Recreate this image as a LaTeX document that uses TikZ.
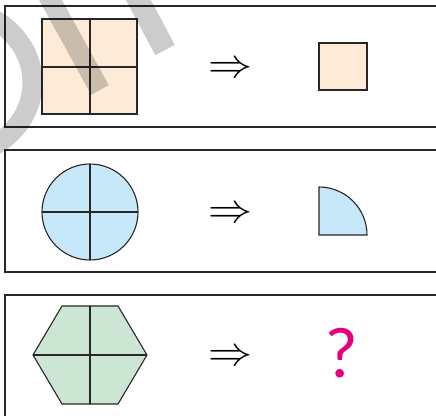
\documentclass[tikz,border=0pt]{standalone}
\usepackage{fontspec}
\usepackage{graphicx}
\newfontfamily\qfont{Lato}
\usetikzlibrary{positioning}

\definecolor{peachFill}{RGB}{253,235,215}
\definecolor{skyFill}{RGB}{199,232,248}
\definecolor{mintFill}{RGB}{204,230,211}
\definecolor{quesPink}{RGB}{230,0,126}
\definecolor{edgeGray}{RGB}{40,38,38}

\begin{document}
\begin{tikzpicture}[
                x=1pt, y=1pt,
                % Box Styles
                panelBox/.style = {draw=edgeGray, line width=1.2pt},
                shapeLine/.style = {draw=edgeGray, line width=1.1pt},
                % Arrow Style
                impliesNode/.style = {inner sep=0pt},
                quesNode/.style = {inner sep=0pt, text=quesPink, font=\qfont\fontsize{68}{68}\selectfont},
                % Watermark Style
                markBand/.style = {draw=black, opacity=0.2}
            ]
                \clip (0,0) rectangle (436,415);

                % ==========================================
                % PANELS
                % ==========================================
                \draw[panelBox] (5,288) rectangle (445,409);
                \draw[panelBox] (5,143) rectangle (445,265);
                \draw[panelBox] (5,-10) rectangle (445,120);

                % ==========================================
                % ROW 1: SQUARE
                % ==========================================
                \filldraw[shapeLine, fill=peachFill] (42,301) rectangle (137,396);
                \draw[shapeLine] (90,301) -- (90,396) (42,348) -- (137,348);
                \node[impliesNode] (imp1) at (230,345) {\scalebox{4.4}[4.1]{$\Rightarrow$}};
                \filldraw[shapeLine, fill=peachFill] (319,325) rectangle (367,372);

                % ==========================================
                % ROW 2: CIRCLE
                % ==========================================
                \coordinate (cir) at (90,203);
                \filldraw[shapeLine, fill=skyFill] (cir) circle[radius=48pt];
                \draw[shapeLine] ([yshift=48pt]cir) -- ([yshift=-48pt]cir)
                    ([xshift=-48pt]cir) -- ([xshift=48pt]cir);
                \node[impliesNode] (imp2) at (230,200) {\scalebox{4.4}[4.1]{$\Rightarrow$}};
                \coordinate (qc) at (319,180);
                \filldraw[shapeLine, fill=skyFill] (qc) -- ([yshift=48pt]qc)
                    arc[start angle=90, end angle=0, radius=48pt] -- cycle;

                % ==========================================
                % ROW 3: HEXAGON
                % ==========================================
                \filldraw[shapeLine, fill=mintFill] (33,60) -- (62,109) -- (118,109)
                    -- (147,60) -- (118,11) -- (62,11) -- cycle;
                \draw[shapeLine] (90,109) -- (90,11) (33,60) -- (147,60);
                \node[impliesNode] (imp3) at (230,57) {\scalebox{4.4}[4.1]{$\Rightarrow$}};
                \node[quesNode] (ques) at (342,62) {?};

                % Watermark strokes
                \draw[markBand, line width=20pt] (45,425) -- (100,325);
                \draw[markBand, line width=22pt] (133,425) -- (165,365);
                \draw[markBand, line width=20pt] (-5,395) .. controls (45,365) and (45,300) .. (-5,270);

            \end{tikzpicture}
\end{document}
